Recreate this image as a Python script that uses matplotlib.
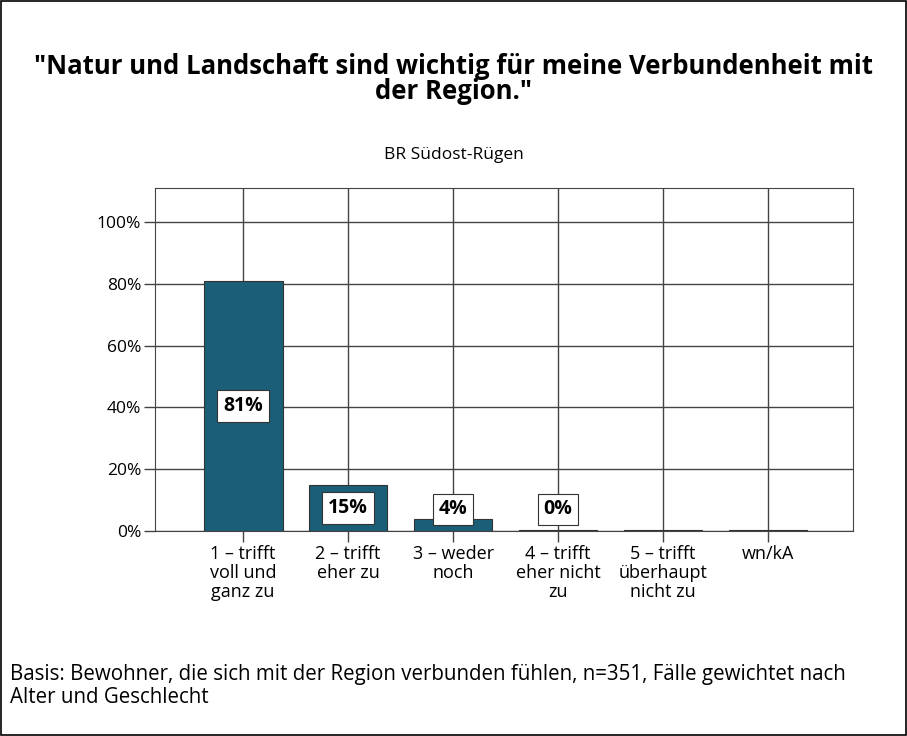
import matplotlib
matplotlib.use("Agg")
import matplotlib.pyplot as plt
from matplotlib.patches import Rectangle

categories = ["1 – trifft\nvoll und\nganz zu", "2 – trifft\neher zu", "3 – weder\nnoch",
              "4 – trifft\neher nicht\nzu", "5 – trifft\nüberhaupt\nnicht zu", "wn/kA"]
values = [81, 15, 4, 0.3, 0.3, 0.3]
labels = ["81%", "15%", "4%", "0%", None, None]
yticks = [0, 20, 40, 60, 80, 100]
ytick_labels = ["0%", "20%", "40%", "60%", "80%", "100%"]

plt.rcParams['font.family'] = ['Open Sans', 'DejaVu Sans']
fig = plt.figure(figsize=(9.07, 7.36), dpi=100)
fig.patches.append(Rectangle((0.001, 0.001), 0.998, 0.998, transform=fig.transFigure,
                             fill=False, edgecolor='black', linewidth=1.2))

ax = fig.add_axes([155/907, 1-531/736, (853-155)/907, (531-188)/736])
x = list(range(len(categories)))
ax.set_xlim(-0.84, 5.81)
ax.set_ylim(0, 111)
ax.set_axisbelow(True)
ax.grid(True, color='#444444', linewidth=1.0)
ax.bar(x, values, width=0.75, color='#1a5e78', edgecolor='#333333', linewidth=0.8, zorder=2)
for xi, v, lab in zip(x, values, labels):
    if lab:
        ax.text(xi, max(v/2, 7.0), lab, ha='center', va='center', fontsize=14, fontweight='bold',
                bbox=dict(boxstyle='square,pad=0.3', fc='white', ec='#333333', lw=0.8), zorder=3)
ax.set_yticks(yticks)
ax.set_yticklabels(ytick_labels, fontsize=12.5)
ax.set_xticks(x)
ax.set_xticklabels(categories, fontsize=13, linespacing=1.08)
ax.tick_params(axis='both', length=8, width=1.0, color='#444444', pad=2)
for s in ax.spines.values():
    s.set_color('#444444')

fig.text(0.5, 1-79/736, '"Natur und Landschaft sind wichtig für meine Verbundenheit mit\nder Region."',
         ha='center', va='center', fontsize=18.5, fontweight='bold', linespacing=0.9)
fig.text(0.5, 1-155/736, 'BR Südost-Rügen', ha='center', va='center', fontsize=12.5)
fig.text(10/907, 1-686/736, 'Basis: Bewohner, die sich mit der Region verbunden fühlen, n=351, Fälle gewichtet nach\nAlter und Geschlecht',
         ha='left', va='center', fontsize=14.8, linespacing=1.1)
fig.savefig('out.png', dpi=100)
